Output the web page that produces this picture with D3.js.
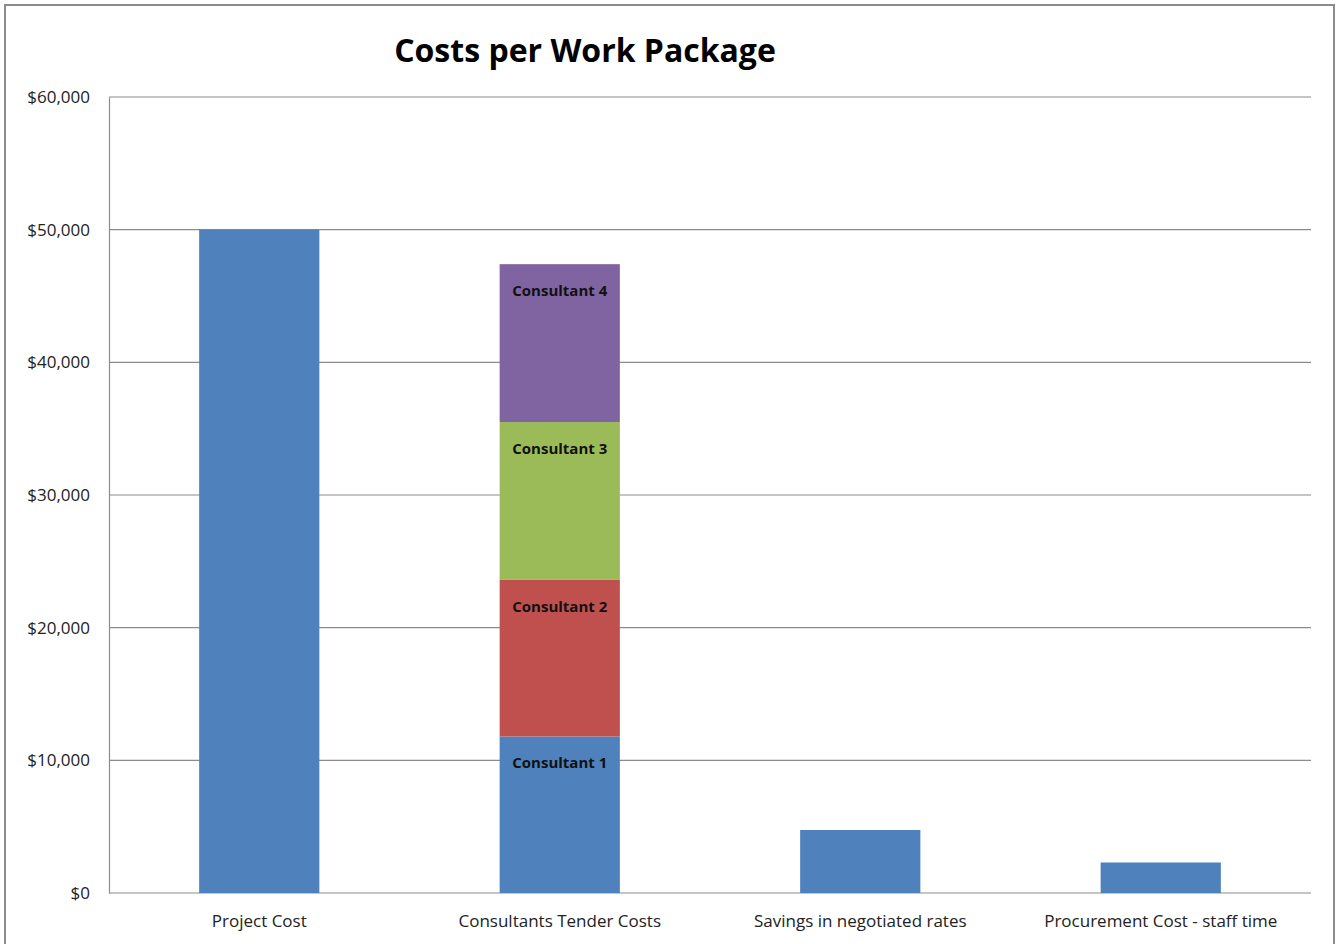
<!DOCTYPE html>
<html lang="en">
<head>
    <meta charset="UTF-8">
    <title>Costs per Work Package</title>
    <script src="https://d3js.org/d3.v7.min.js"></script>
    <style>
        body {
            margin: 0;
            background: #fff;
        }
        .chart-frame {
            fill: #fff;
            stroke: #8c8c8c;
            stroke-width: 2;
        }
        .grid line {
            stroke: #8c8c8c;
            stroke-width: 1.2;
        }
        .axis text {
            font-family: "Open Sans", Lato, sans-serif;
            font-size: 17px;
            fill: #222;
        }
        .title {
            font-family: "Open Sans", Lato, sans-serif;
            font-size: 32px;
            font-weight: bold;
            fill: #000;
        }
        .seg-label {
            font-family: "Open Sans", Lato, sans-serif;
            font-size: 15px;
            font-weight: bold;
            fill: #111;
        }
    </style>
</head>
<body>
    <div id="chart"></div>

    <script>
        // chart data
        const categories = ["Project Cost", "Consultants Tender Costs", "Savings in negotiated rates", "Procurement Cost - staff time"];
        const singleValues = [50000, null, 4750, 2300];
        const consultantNames = ["Consultant 1", "Consultant 2", "Consultant 3", "Consultant 4"];
        const consultantValues = [11800, 11800, 11900, 11900];
        const consultantColors = ["#4f81bd", "#c0504d", "#9bbb59", "#8064a2"];
        const yTicks = [0, 10000, 20000, 30000, 40000, 50000, 60000];

        const W = 1336, H = 944;
        const plot = { left: 109, right: 1311, top: 97, bottom: 893 };

        const svg = d3.select("#chart")
            .append("svg")
            .attr("width", W)
            .attr("height", H);

        // outer frame
        svg.append("rect")
            .attr("class", "chart-frame")
            .attr("x", 5).attr("y", 5)
            .attr("width", 1329).attr("height", 960);

        svg.append("text")
            .attr("class", "title")
            .attr("x", 585)
            .attr("y", 62)
            .attr("text-anchor", "middle")
            .text("Costs per Work Package");

        const x = d3.scaleBand()
            .domain(categories)
            .range([plot.left, plot.right])
            .paddingInner(0.6)
            .paddingOuter(0.3);

        const y = d3.scaleLinear()
            .domain([0, 60000])
            .range([plot.bottom, plot.top]);

        // gridlines
        svg.append("g")
            .attr("class", "grid")
            .selectAll("line")
            .data(yTicks)
            .enter().append("line")
            .attr("x1", plot.left)
            .attr("x2", plot.right)
            .attr("y1", d => y(d))
            .attr("y2", d => y(d));

        // y axis
        const yAxis = svg.append("g")
            .attr("class", "axis")
            .attr("transform", `translate(${plot.left},0)`)
            .call(d3.axisLeft(y)
                .tickValues(yTicks)
                .tickSize(0)
                .tickPadding(19)
                .tickFormat(d => "$" + d3.format(",")(d)));
        yAxis.select(".domain").attr("stroke", "#8c8c8c").attr("stroke-width", 1.2);

        // x axis labels
        const xAxis = svg.append("g")
            .attr("class", "axis")
            .attr("transform", `translate(0,${plot.bottom})`)
            .call(d3.axisBottom(x).tickSize(0).tickPadding(22));
        xAxis.select(".domain").remove();

        // simple bars
        const simple = categories.map((c, i) => ({ cat: c, value: singleValues[i] }))
            .filter(d => d.value !== null);

        svg.selectAll(".bar")
            .data(simple)
            .enter().append("rect")
            .attr("class", "bar")
            .attr("x", d => x(d.cat))
            .attr("width", x.bandwidth())
            .attr("y", d => y(d.value))
            .attr("height", d => y(0) - y(d.value))
            .attr("fill", "#4f81bd");

        // stacked consultants bar
        let acc = 0;
        const stack = consultantNames.map((n, i) => {
            const s = { name: n, y0: acc, y1: acc + consultantValues[i], color: consultantColors[i] };
            acc = s.y1;
            return s;
        });

        const cx = x(categories[1]);

        svg.selectAll(".seg")
            .data(stack)
            .enter().append("rect")
            .attr("class", "seg")
            .attr("x", cx)
            .attr("width", x.bandwidth())
            .attr("y", d => y(d.y1))
            .attr("height", d => y(d.y0) - y(d.y1))
            .attr("fill", d => d.color);

        svg.selectAll(".seg-label")
            .data(stack)
            .enter().append("text")
            .attr("class", "seg-label")
            .attr("x", cx + x.bandwidth() / 2)
            .attr("y", d => y(d.y1) + 32)
            .attr("text-anchor", "middle")
            .text(d => d.name);
    </script>
</body>
</html>
